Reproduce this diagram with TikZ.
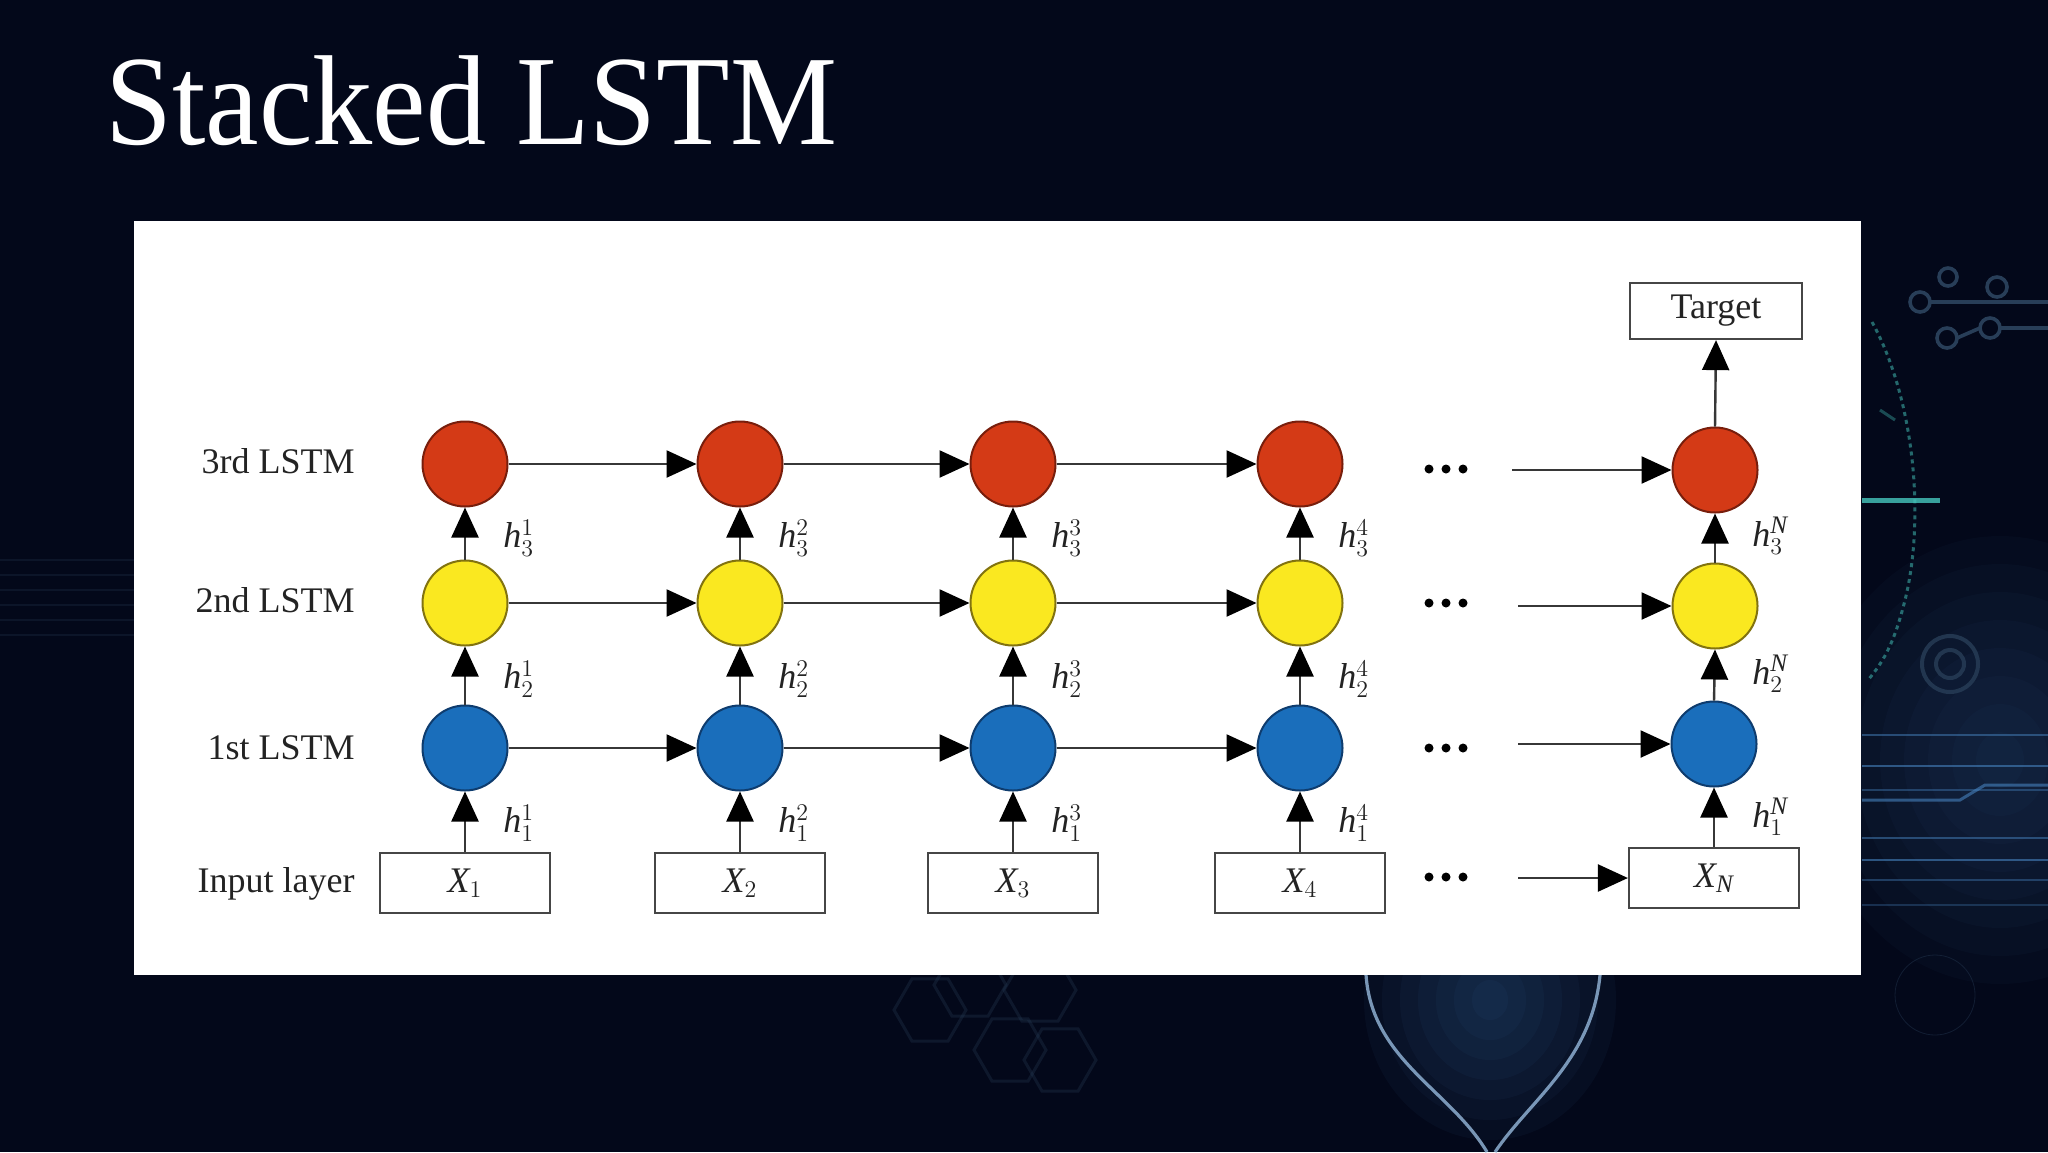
\documentclass[tikz,border=0pt]{standalone}
\usepackage{fontspec}
\setmainfont{Liberation Serif}
\usetikzlibrary{arrows.meta}
\definecolor{bg}{RGB}{3,8,26}
\definecolor{lstmred}{RGB}{212,58,22}
\definecolor{lstmredd}{RGB}{120,30,12}
\definecolor{lstmyel}{RGB}{250,232,32}
\definecolor{lstmyeld}{RGB}{130,115,15}
\definecolor{lstmblue}{RGB}{26,110,187}
\definecolor{lstmblued}{RGB}{14,60,110}
\definecolor{linec}{RGB}{55,55,55}
\definecolor{boxline}{RGB}{70,70,70}
\definecolor{labelc}{RGB}{35,35,35}
\definecolor{glowblue}{RGB}{70,130,190}
\definecolor{circuit}{RGB}{40,62,88}
\definecolor{teal}{RGB}{70,200,190}
\definecolor{vlinec}{RGB}{150,185,220}
\tikzset{
  cell/.style={circle, minimum size=42.5pt, inner sep=0pt, line width=1pt},
  redc/.style={cell, fill=lstmred, draw=lstmredd},
  yelc/.style={cell, fill=lstmyel, draw=lstmyeld},
  bluec/.style={cell, fill=lstmblue, draw=lstmblued},
  inbox/.style={rectangle, draw=boxline, line width=1.1pt, minimum width=85pt, minimum height=30pt, inner sep=0pt, text=labelc, font=\fontsize{18}{18}\selectfont},
  conn/.style={draw=linec, line width=1.2pt, -{Triangle[length=15pt,width=13.5pt,color=black]}},
  hlab/.style={anchor=west, inner sep=0pt, text=labelc, font=\fontsize{18}{18}\selectfont},
  rowlab/.style={anchor=base east, inner sep=0pt, text=labelc, font=\fontsize{18}{18}\selectfont},
  dotdot/.style={circle, fill=black, inner sep=0pt, minimum size=4.5pt},
  vline/.style={draw=vlinec, line width=1.6pt, opacity=0.8},
  circ/.style={draw=circuit, line width=1.8pt},
}
\begin{document}
\begin{tikzpicture}[x=0.5pt,y=-0.5pt]
\useasboundingbox (0,0) rectangle (2048,1152);
\fill[bg] (0,0) rectangle (2048,1152);

% ---------- background decoration ----------
\foreach \r in {1,...,8}
  \fill[glowblue, opacity=0.035] (2000,760) ellipse [x radius={\r*12pt}, y radius={\r*14pt}];
\foreach \r in {1,...,7}
  \fill[glowblue, opacity=0.05] (1490,1000) ellipse [x radius={\r*9pt}, y radius={\r*10pt}];
\draw[vline] (1366,975) .. controls (1372,1060) and (1450,1090) .. (1487,1152);
\draw[vline] (1600,975) .. controls (1592,1060) and (1530,1100) .. (1495,1152);
\foreach \cx/\cy in {930/1010, 970/985, 1040/990, 1010/1050, 1060/1060}
  \draw[circuit, opacity=0.3, line width=1.5pt] (\cx,\cy) +(0:18pt) -- +(60:18pt) -- +(120:18pt) -- +(180:18pt) -- +(240:18pt) -- +(300:18pt) -- cycle;
\draw[circuit, opacity=0.4] (1935,995) circle [radius=20pt];
\draw[circ] (1920,302) circle [radius=5pt] (1948,277) circle [radius=4.5pt] (1997,287) circle [radius=5pt]
            (1947,338) circle [radius=5pt] (1990,328) circle [radius=5pt];
\draw[circ] (1930,302) -- (1965,302) -- (2048,302);
\draw[circ] (1957,338) -- (1980,328);
\draw[circ] (2000,328) -- (2048,328);
\draw[teal, opacity=0.5, line width=1.5pt, dash pattern=on 2pt off 2pt]
  (1872,322) .. controls (1915,400) and (1925,520) .. (1905,600) .. controls (1895,640) and (1885,660) .. (1868,680);
\draw[teal, opacity=0.8, line width=2.5pt] (1862,500) -- (1940,500);
\draw[teal, opacity=0.35, line width=1.5pt] (1880,410) -- (1895,420);
\draw[circuit, line width=2pt, opacity=0.8] (1950,664) circle [radius=14pt] (1950,664) circle [radius=7pt];
\foreach \yy/\op in {735/0.5, 766/0.6, 790/0.4, 838/0.5, 860/0.6, 880/0.4, 905/0.3}
  \draw[glowblue, opacity=\op, line width=1.2pt] (1862,\yy) -- (2048,\yy);
\draw[glowblue, opacity=0.6, line width=1.5pt] (1862,800) -- (1960,800) -- (1985,785) -- (2048,785);
\foreach \yy in {560,575,590,605,620,635}
  \draw[circuit, opacity=0.25, line width=1pt] (0,\yy) -- (134,\yy);

% ---------- title ----------
\node[anchor=base west, inner sep=0pt, text=white] (title) at (105,144)
  {\scalebox{0.94}[1]{\fontsize{64}{64}\selectfont Stacked LSTM}};

% ---------- panel ----------
\fill[white] (134,221) rectangle (1861,975);

\node[rowlab] (l3) at (355,473) {3rd LSTM};
\node[rowlab] (l2) at (355,612) {2nd LSTM};
\node[rowlab] (l1) at (355,759) {1st LSTM};
\node[rowlab] (l0) at (355,892) {Input layer};

\foreach \i/\cx/\lab in {1/465/1, 2/740/2, 3/1013/3, 4/1300/4} {
  \node[redc]  (r\i) at (\cx,464) {};
  \node[yelc]  (y\i) at (\cx,603) {};
  \node[bluec] (b\i) at (\cx,748) {};
  \node[inbox] (x\i) at (\cx,883) {$\mathit{X}_{\lab}$};
  \draw[conn] (x\i.north) -- (b\i.south);
  \draw[conn] (b\i.north) -- (y\i.south);
  \draw[conn] (y\i.north) -- (r\i.south);
  \node[hlab] (h3\i) at (\cx+38,538) {$\mathit{h}^{\lab}_{3}$};
  \node[hlab] (h2\i) at (\cx+38,679) {$\mathit{h}^{\lab}_{2}$};
  \node[hlab] (h1\i) at (\cx+38,823) {$\mathit{h}^{\lab}_{1}$};
}
\node[redc]  (rN) at (1715,470) {};
\node[yelc]  (yN) at (1715,606) {};
\node[bluec] (bN) at (1714,744) {};
\node[inbox] (xN) at (1714,878) {$\mathit{X}_{\mathit{N}}$};
\node[rectangle, draw=boxline, line width=1.1pt, minimum width=86pt, minimum height=28pt, inner sep=0pt, text=labelc, font=\fontsize{18}{18}\selectfont] (tgt) at (1716,311) {Target};
\draw[conn] (xN.north) -- (bN.south);
\draw[conn] (bN.north) -- (yN.south);
\draw[conn] (yN.north) -- (rN.south);
\draw[conn] (rN.north) -- (tgt.south);
\node[hlab] (h3N) at (1752,536) {$\mathit{h}^{\mathit{N}}_{3}$};
\node[hlab] (h2N) at (1752,674) {$\mathit{h}^{\mathit{N}}_{2}$};
\node[hlab] (h1N) at (1752,817) {$\mathit{h}^{\mathit{N}}_{1}$};

\foreach \a/\b in {1/2, 2/3, 3/4} {
  \draw[conn] (r\a.east) -- (r\b.west);
  \draw[conn] (y\a.east) -- (y\b.west);
  \draw[conn] (b\a.east) -- (b\b.west);
}

\foreach \row/\yy in {r/469, y/603, b/748, x/877} {
  \node[dotdot] (\row d1) at (1429,\yy) {};
  \node[dotdot] (\row d2) at (1446,\yy) {};
  \node[dotdot] (\row d3) at (1463,\yy) {};
}
\coordinate (sr) at (1512,470);
\coordinate (sy) at (1518,606);
\coordinate (sb) at (1518,744);
\coordinate (sx) at (1518,878);
\draw[conn] (sr) -- (rN.west);
\draw[conn] (sy) -- (yN.west);
\draw[conn] (sb) -- (bN.west);
\draw[conn] (sx) -- (xN.west);
\end{tikzpicture}
\end{document}
